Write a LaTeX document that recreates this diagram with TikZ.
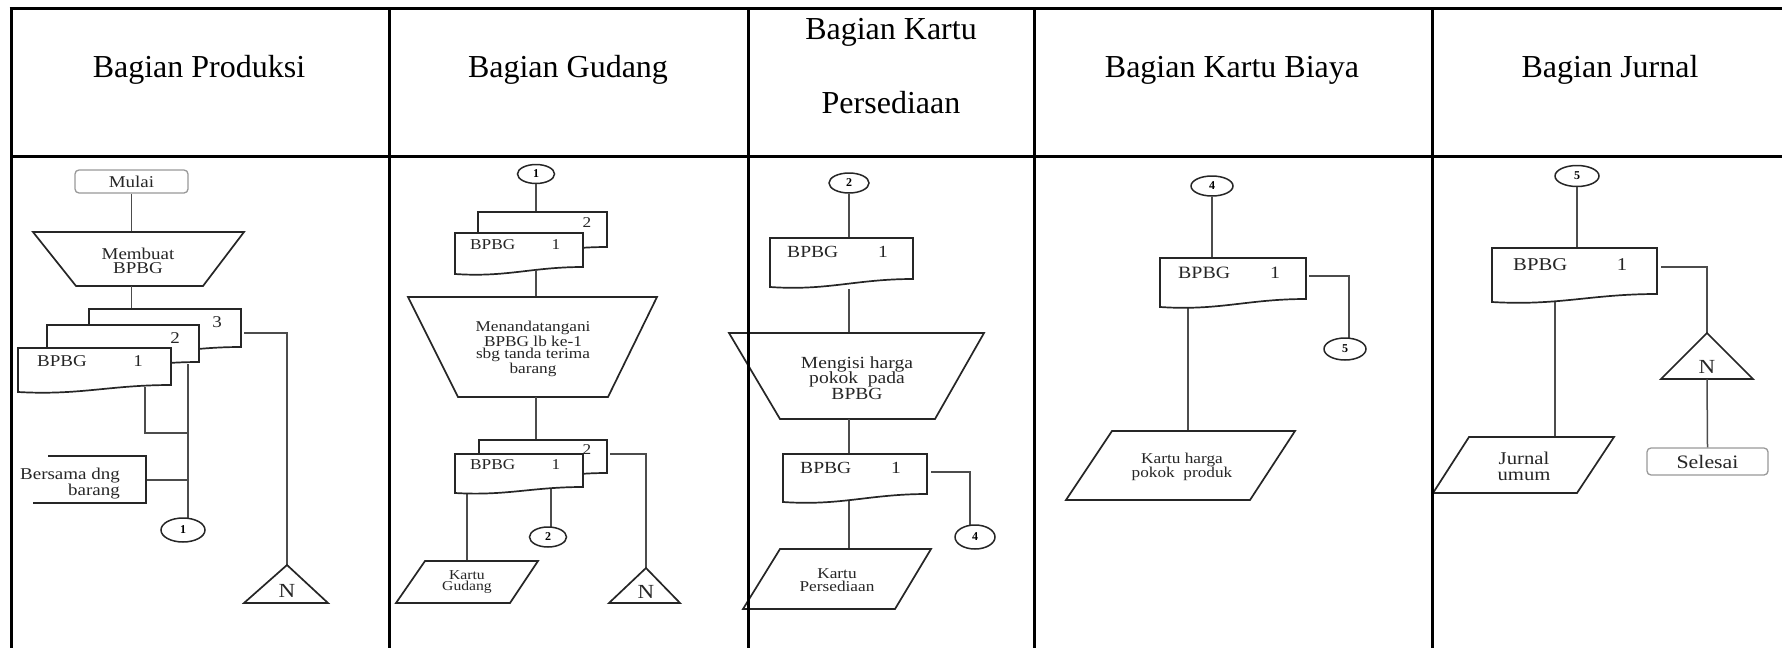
\documentclass[tikz,border=0pt]{standalone}
\usepackage{fontspec}
\setmainfont{Liberation Serif}
\newfontfamily\bdfont[FakeStretch=1.15]{Liberation Serif}
\usetikzlibrary{shapes.geometric}
\newcommand{\bpdoc}[5]{% x1, x2, top, yRight, yLeft
  \draw[shp] (#1,#3) -- (#2,#3) -- (#2,#4)
    .. controls ({#1+0.6*(#2-#1)},#4) and ({#1+0.4*(#2-#1)},{#5+0.5*(#5-#4)}) .. (#1,#5) -- cycle;}
\tikzset{
  frame/.style={line width=3pt, black},
  conn/.style={line width=1.5pt, black!70},
  shp/.style={line width=1.7pt, black!85, fill=white},
  term/.style={draw=black!40, line width=1.3pt, rounded corners=4pt, fill=white, inner sep=0pt, text=black!85},
  conc/.style={ellipse, draw=black!85, line width=1.5pt, fill=white, inner sep=0pt, font=\bfseries\fontsize{12}{12}\selectfont},
  hd/.style={font=\fontsize{32}{32}\selectfont, anchor=base, inner sep=0pt},
  txt/.style={inner sep=0pt, align=center, text=black!85},
  fa/.style={font=\bdfont\fontsize{16.5}{14.5}\selectfont},
  fb/.style={font=\bdfont\fontsize{15}{12.5}\selectfont},
  fc/.style={font=\bdfont\fontsize{17}{15.8}\selectfont},
  fd/.style={font=\bdfont\fontsize{17.3}{13}\selectfont},
  fe/.style={font=\bdfont\fontsize{18}{16}\selectfont},
  fn/.style={font=\bdfont\fontsize{20}{20}\selectfont}
}
\begin{document}
\begin{tikzpicture}[x=1pt,y=-1pt]
\useasboundingbox (0,0) rectangle (1782,648);

% ---------------- headers
\node[hd] (h1) at (199,77) {Bagian Produksi};
\node[hd] (h2) at (568,77) {Bagian Gudang};
\node[hd] (h3a) at (891,39) {Bagian Kartu};
\node[hd] (h3b) at (891,113) {Persediaan};
\node[hd] (h4) at (1232,77) {Bagian Kartu Biaya};
\node[hd] (h5) at (1610,77) {Bagian Jurnal};

% ---------------- column 1: Bagian Produksi
\node[term, fa, minimum width=113pt, minimum height=23pt] (mulai) at (131.5,181.5) {Mulai};
\draw[conn] (mulai.south) -- (131.5,232);
\draw[shp] (33,232) -- (244,232) -- (203,286) -- (76,286) -- cycle;
\node[txt, fa] (t1) at (138,261) {Membuat\\BPBG};
\draw[conn] (131.5,286) -- (131.5,309);
\draw[conn] (244,333) -- (287,333) -- (287,565);
\draw[conn] (145,387) -- (145,433) -- (188,433);
\draw[conn] (146,480) -- (188,480);
\draw[conn] (188,364) -- (188,519);
\bpdoc{89}{241}{309}{347}{355}
\bpdoc{47}{199}{325}{362}{370}
\bpdoc{18}{171}{348}{385}{392}
\node[txt, fa] (p3) at (217,322) {3};
\node[txt, fa] (p2) at (175,338) {2};
\node[txt, fa, anchor=west] (p1a) at (37,361) {BPBG};
\node[txt, fa] (p1b) at (138,361) {1};
\draw[shp] (287,565) -- (328,603) -- (244,603) -- cycle;
\node[txt, fn] (n1) at (287,591) {N};
\draw[shp, fill=none] (48,456) -- (146,456) -- (146,503) -- (33,503);
\node[txt, fa, align=right, anchor=east] (bersama) at (120,484) {Bersama dng\\barang};
\node[conc, minimum width=44pt, minimum height=24pt] (c1out) at (183,530) {1};

% ---------------- column 2: Bagian Gudang
\node[conc, minimum width=37pt, minimum height=19pt] (c1in) at (536,174) {1};
\draw[conn] (c1in.south) -- (536,212);
\bpdoc{478}{607}{212}{247}{254}
\bpdoc{455}{583}{233}{267}{274}
\node[txt, fb] (g2a) at (587,223) {2};
\node[txt, fb, anchor=west] (g1a) at (470,245) {BPBG};
\node[txt, fb] (g1b) at (556,245) {1};
\draw[conn] (536,270) -- (536,297);
\draw[shp] (408,297) -- (657,297) -- (608,397) -- (458,397) -- cycle;
\node[txt, fb] (t2) at (533,349) {Menandatangani\\BPBG lb ke-1\\sbg tanda terima\\barang};
\draw[conn] (536,397) -- (536,440);
\draw[conn] (610,454) -- (646,454) -- (646,568);
\draw[conn] (467,492) -- (467,561);
\draw[conn] (551,489) -- (551,527);
\bpdoc{479}{607}{440}{473}{480}
\bpdoc{455}{583}{454}{487}{493}
\node[txt, fb] (g2b) at (587,450) {2};
\node[txt, fb, anchor=west] (g3a) at (470,465) {BPBG};
\node[txt, fb] (g3b) at (556,465) {1};
\draw[shp] (646,568) -- (680,603) -- (609,603) -- cycle;
\node[txt, fn] (n2) at (646,592) {N};
\node[conc, minimum width=37pt, minimum height=20pt] (c2out) at (548,537) {2};
\draw[shp] (425,561) -- (538,561) -- (510,603) -- (396,603) -- cycle;
\node[txt, font=\bdfont\fontsize{13.6}{11.5}\selectfont, text=black!85] (kg) at (467,582) {Kartu\\Gudang};

% ---------------- column 3: Bagian Kartu Persediaan
\node[conc, minimum width=40pt, minimum height=20pt] (c2in) at (849,183) {2};
\draw[conn] (c2in.south) -- (849,238);
\bpdoc{770}{913}{238}{279}{287}
\node[txt, fc, anchor=west] (k1a) at (787,252) {BPBG};
\node[txt, fc] (k1b) at (883,252) {1};
\draw[conn] (849,289) -- (849,333);
\draw[shp] (729,333) -- (984,333) -- (935,419) -- (780,419) -- cycle;
\node[txt, fc] (t3) at (857,378) {Mengisi harga\\pokok\ \ pada\\BPBG};
\draw[conn] (849,419) -- (849,454);
\draw[conn] (931,472) -- (970,472) -- (970,525);
\draw[conn] (849,500) -- (849,549);
\bpdoc{783}{927}{454}{494}{502}
\node[txt, fc, anchor=west] (k2a) at (800,468) {BPBG};
\node[txt, fc] (k2b) at (896,468) {1};
\node[conc, minimum width=40pt, minimum height=24pt] (c4out) at (975,537) {4};
\draw[shp] (780,549) -- (931,549) -- (895,609) -- (743,609) -- cycle;
\node[txt, font=\bdfont\fontsize{15}{13.5}\selectfont, text=black!85] (kp) at (837,580) {Kartu\\Persediaan};

% ---------------- column 4: Bagian Kartu Biaya
\node[conc, minimum width=42pt, minimum height=20pt] (c4in) at (1212,186) {4};
\draw[conn] (c4in.south) -- (1212,258);
\draw[conn] (1309,276) -- (1349,276) -- (1349,338);
\draw[conn] (1188,305) -- (1188,431);
\bpdoc{1160}{1306}{258}{299}{307}
\node[txt, fd, anchor=west] (b1a) at (1178,273) {BPBG};
\node[txt, fd] (b1b) at (1275,273) {1};
\node[conc, minimum width=42pt, minimum height=22pt] (c5out) at (1345,349) {5};
\draw[shp] (1112,431) -- (1295,431) -- (1250,500) -- (1066,500) -- cycle;
\node[txt, font=\bdfont\fontsize{15}{13.5}\selectfont, text=black!85] (kh) at (1182,467) {Kartu harga\\pokok\ \ produk};

% ---------------- column 5: Bagian Jurnal
\node[conc, minimum width=44pt, minimum height=21pt] (c5in) at (1577,176) {5};
\draw[conn] (c5in.south) -- (1577,248);
\draw[conn] (1661,267) -- (1707,267) -- (1707,333);
\draw[conn] (1555,300) -- (1555,437);
\bpdoc{1492}{1657}{248}{294}{302}
\node[txt, fe, anchor=west] (j1a) at (1513,265) {BPBG};
\node[txt, fe] (j1b) at (1622,265) {1};
\draw[shp] (1707,333) -- (1753,379) -- (1661,379) -- cycle;
\node[txt, fn] (n5) at (1707,367) {N};
\node[term, font=\bdfont\fontsize{19}{19}\selectfont, minimum width=121pt, minimum height=27pt] (selesai) at (1707.5,461.5) {Selesai};
\draw[conn] (1707,379) -- (selesai.north);
\draw[shp] (1469,437) -- (1614,437) -- (1577,493) -- (1433,493) -- cycle;
\node[txt, fe] (ju) at (1524,466) {Jurnal\\umum};

% ---------------- table frame
\draw[frame] (9.5,8.7) -- (1782,8.7);
\draw[frame] (11,156) -- (1782,156);
\foreach \xx in {11,389,748,1034,1432} \draw[frame] (\xx,7.2) -- (\xx,648);
\end{tikzpicture}
\end{document}
